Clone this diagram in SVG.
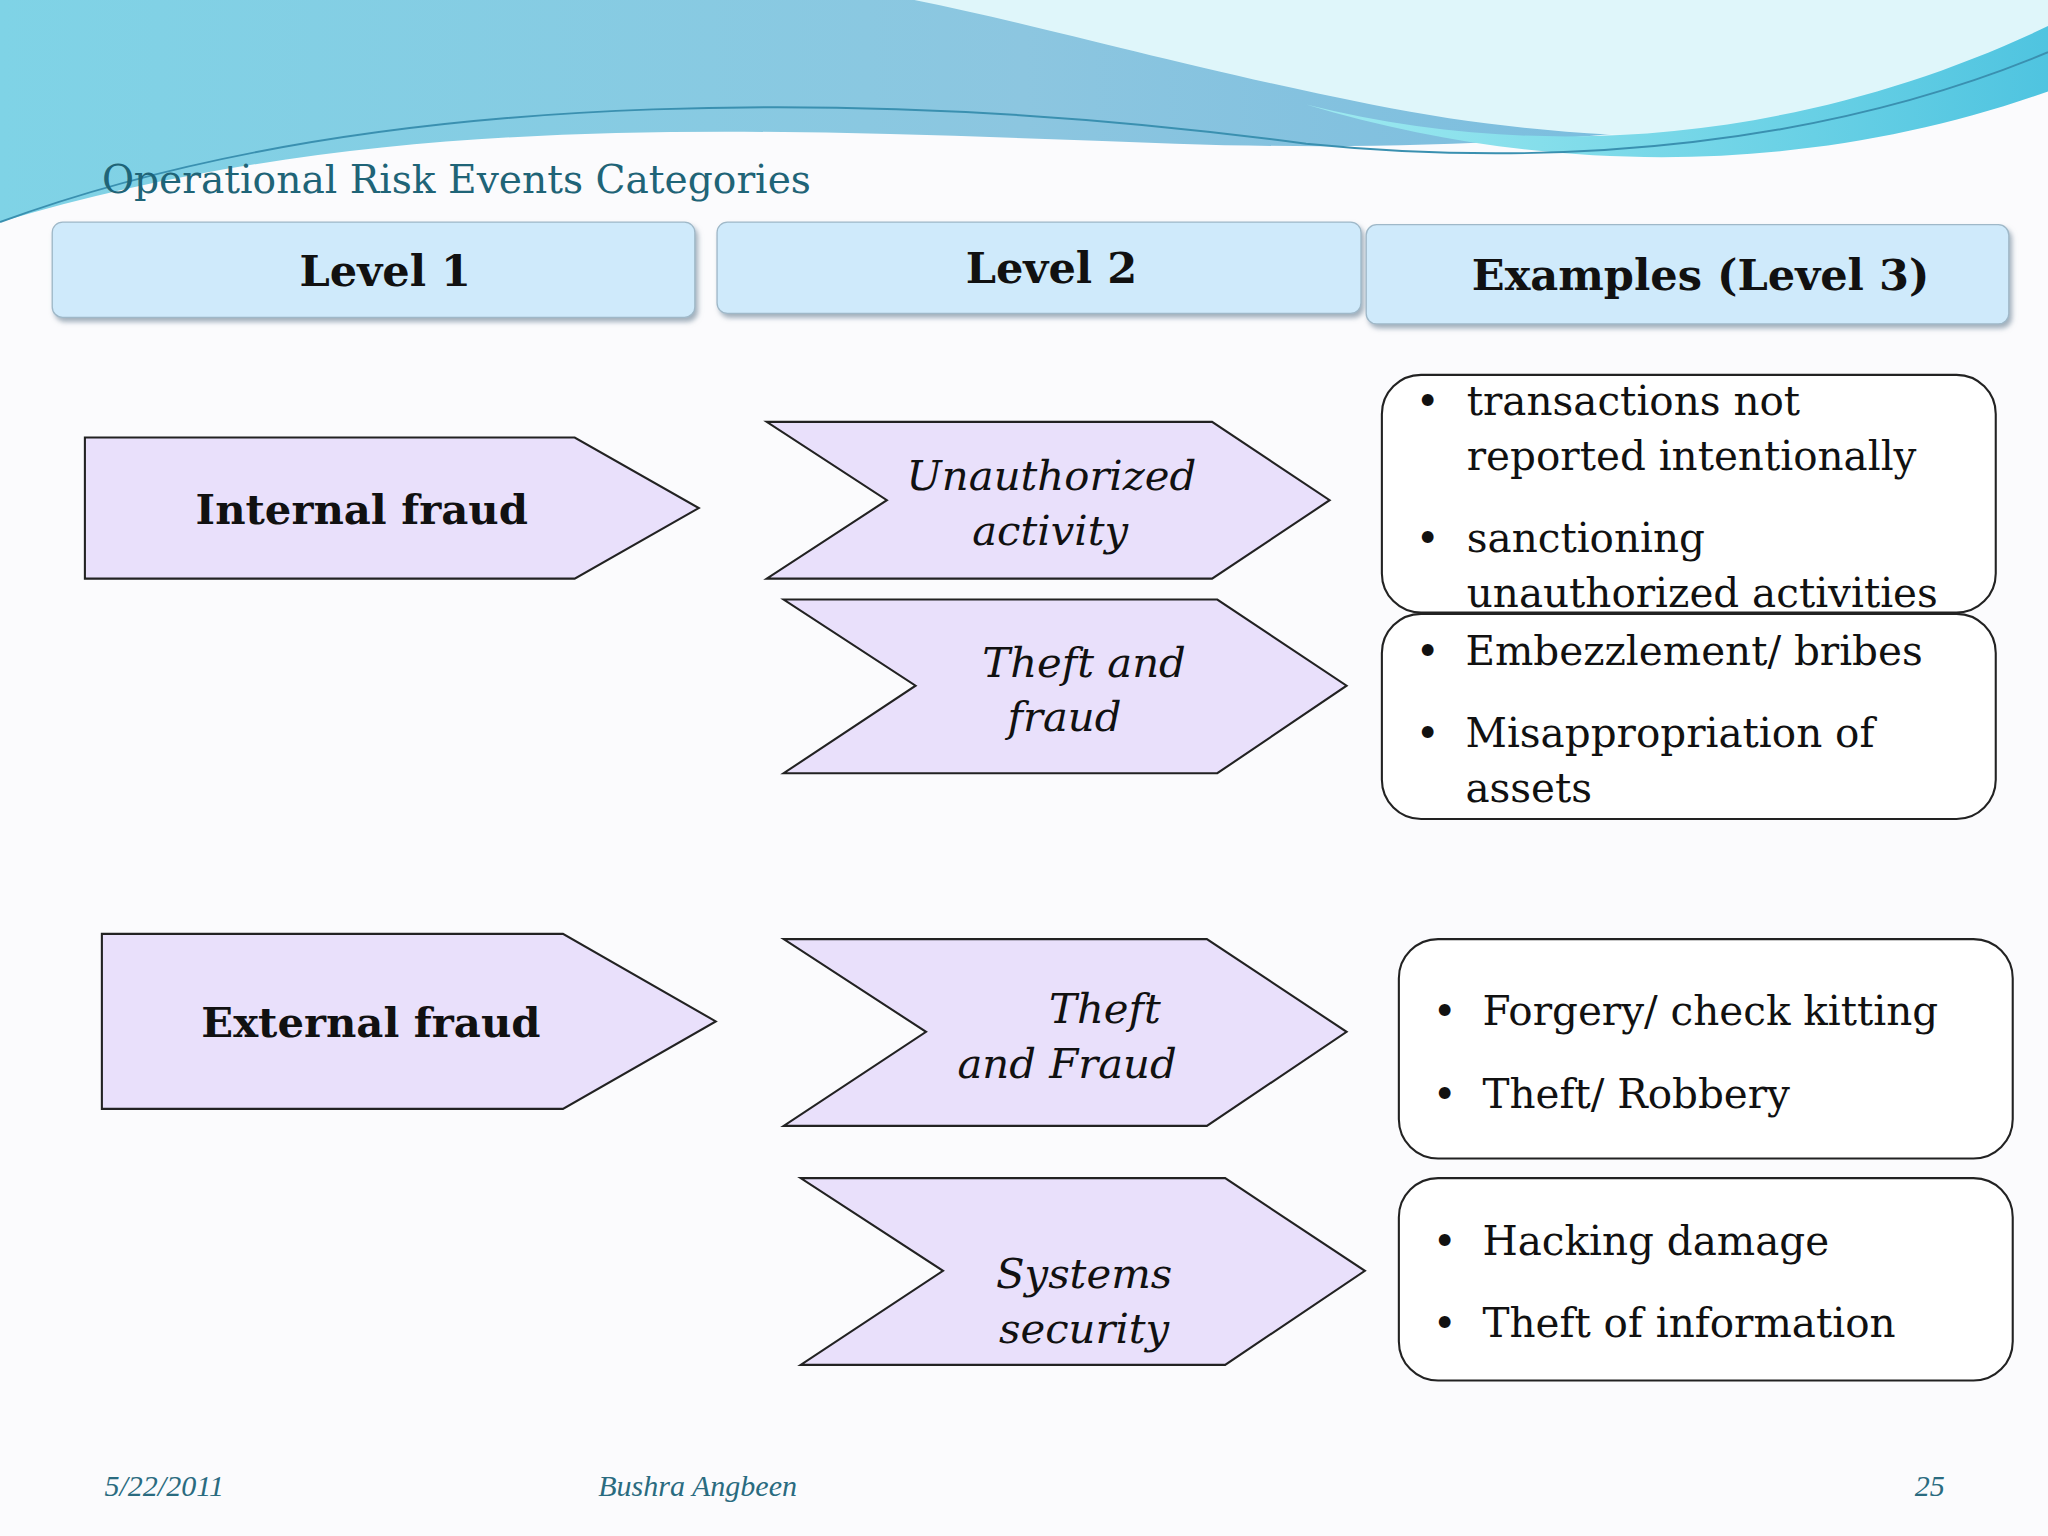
<svg xmlns="http://www.w3.org/2000/svg" width="2048" height="1536" viewBox="0 0 2048 1536">
<defs>
<linearGradient id="sky" x1="0" y1="0" x2="1" y2="0"><stop offset="0" stop-color="#7fd3e6"/><stop offset="0.5" stop-color="#8cc6e0"/><stop offset="1" stop-color="#6fb7dd"/></linearGradient>
<linearGradient id="teal" x1="0" y1="0" x2="1" y2="0"><stop offset="0" stop-color="#9eeaf0"/><stop offset="1" stop-color="#4fc4e0"/></linearGradient>
<filter id="sh" x="-5%" y="-10%" width="110%" height="130%"><feDropShadow dx="2" dy="3" stdDeviation="2" flood-color="#7a8fa0" flood-opacity="0.7"/></filter>
<style>
.hdr{fill:#cfeafb;stroke:#9fb8c8;stroke-width:1;filter:url(#sh)}
.ht{font-family:"DejaVu Serif","Liberation Serif",serif;font-weight:bold;font-size:33px;fill:#111;text-anchor:middle}
.sh{fill:#e9e0fb;stroke:#222;stroke-width:1.6}
.l1{font-family:"DejaVu Serif","Liberation Serif",serif;font-weight:bold;font-size:32px;fill:#111;text-anchor:middle}
.l2{font-family:"DejaVu Serif","Liberation Serif",serif;font-style:italic;font-size:32px;fill:#111;text-anchor:middle}
.bx{fill:#fff;stroke:#222;stroke-width:1.6}
.ex{font-family:"DejaVu Serif","Liberation Serif",serif;font-size:31px;fill:#111}
.ft{font-family:"Liberation Serif",serif;font-style:italic;font-size:23px;fill:#2a6b80}
</style>
</defs>
<rect width="2048" height="1536" fill="#fbfbfd"/>
<g transform="scale(1.30612)">
<g id="banner">
<path d="M0,0 H1568 V40 C1400,90 1200,120 900,110 C600,100 300,80 0,170 Z" fill="url(#sky)"/>
<path d="M700,0 H1568 V60 C1450,110 1250,120 1050,80 C900,50 800,20 700,0 Z" fill="#dff6fa"/>
<path d="M1000,80 C1200,130 1400,100 1568,20 V70 C1400,130 1200,140 1000,80 Z" fill="url(#teal)"/>
<path d="M0,170 C300,60 700,70 1000,110 C1200,130 1400,110 1568,40" fill="none" stroke="#3a90b0" stroke-width="1.5"/>
</g>
<text x="78" y="148" font-family="'DejaVu Serif','Liberation Serif',serif" font-size="30" fill="#1f6477">Operational Risk Events Categories</text>
<g id="h1"><rect class="hdr" x="40" y="170" width="492" height="73" rx="8"/><text class="ht" x="295" y="219">Level 1</text></g>
<g id="h2"><rect class="hdr" x="549" y="170" width="493" height="70" rx="8"/><text class="ht" x="805" y="217">Level 2</text></g>
<g id="h3"><rect class="hdr" x="1046" y="172" width="492" height="76" rx="8"/><text class="ht" x="1302" y="222">Examples (Level 3)</text></g>
<g id="internal"><polygon class="sh" points="65,335 440,335 535,389 440,443 65,443"/><text class="l1" x="277" y="401">Internal fraud</text></g>
<g id="unauth"><polygon class="sh" points="587,323 928,323 1018,383 928,443 587,443 679,383"/><text class="l2" x="805" y="375">Unauthorized</text><text class="l2" x="804" y="417">activity</text></g>
<g id="theft1"><polygon class="sh" points="600,459 932,459 1031,525 932,592 600,592 701,525"/><text class="l2" x="830" y="518">Theft and</text><text class="l2" x="815" y="560">fraud</text></g>
<g id="external"><polygon class="sh" points="78,715 431,715 548,782 431,849 78,849"/><text class="l1" x="284" y="794">External fraud</text></g>
<g id="theft2"><polygon class="sh" points="600,719 924,719 1031,790 924,862 600,862 709,790"/><text class="l2" x="846" y="783">Theft</text><text class="l2" x="817" y="825">and Fraud</text></g>
<g id="systems"><polygon class="sh" points="613,902 938,902 1045,973 938,1045 613,1045 722,973"/><text class="l2" x="830" y="986">Systems</text><text class="l2" x="830" y="1028">security</text></g>
<g id="ex1"><rect class="bx" x="1058" y="287" width="470" height="182" rx="30"/>
<text class="ex" x="1084" y="318">•</text><text class="ex" x="1123" y="318">transactions not</text><text class="ex" x="1123" y="360">reported intentionally</text>
<text class="ex" x="1084" y="423">•</text><text class="ex" x="1123" y="423">sanctioning</text><text class="ex" x="1123" y="465">unauthorized activities</text></g>
<g id="ex2"><rect class="bx" x="1058" y="470" width="470" height="157" rx="30"/>
<text class="ex" x="1084" y="509">•</text><text class="ex" x="1122" y="509">Embezzlement/ bribes</text>
<text class="ex" x="1084" y="572">•</text><text class="ex" x="1122" y="572">Misappropriation of</text><text class="ex" x="1122" y="614">assets</text></g>
<g id="ex3"><rect class="bx" x="1071" y="719" width="470" height="168" rx="30"/>
<text class="ex" x="1097" y="785">•</text><text class="ex" x="1135" y="785">Forgery/ check kitting</text>
<text class="ex" x="1097" y="848">•</text><text class="ex" x="1135" y="848">Theft/ Robbery</text></g>
<g id="ex4"><rect class="bx" x="1071" y="902" width="470" height="155" rx="30"/>
<text class="ex" x="1097" y="961">•</text><text class="ex" x="1135" y="961">Hacking damage</text>
<text class="ex" x="1097" y="1024">•</text><text class="ex" x="1135" y="1024">Theft of information</text></g>
<g id="connectors"/>
<text class="ft" x="80" y="1145">5/22/2011</text>
<text class="ft" x="458" y="1145">Bushra Angbeen</text>
<text class="ft" x="1466" y="1145">25</text>
</g>
</svg>
